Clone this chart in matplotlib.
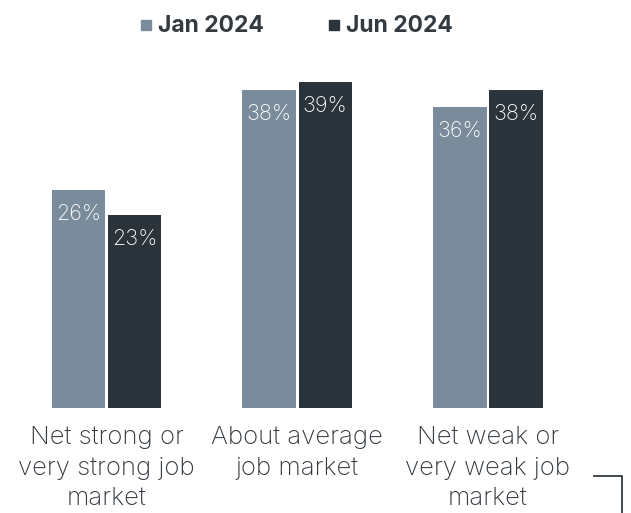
import matplotlib.pyplot as plt
import numpy as np
from matplotlib.lines import Line2D

categories = ["Net strong or\nvery strong job\nmarket", "About average\njob market", "Net weak or\nvery weak job\nmarket"]
jan_2024 = [26, 38, 36]
jun_2024 = [23, 39, 38]
series_names = ["Jan 2024", "Jun 2024"]

jan_color = "#7a8c9b"
jun_color = "#2b333b"
text_color = "#333a40"

plt.rcParams["font.family"] = ["Inter", "DejaVu Sans"]

fig = plt.figure(figsize=(6.31, 5.13), dpi=100)
ax = fig.add_axes([0, 105 / 513, 1, (408 - 60) / 513])

x = np.arange(len(categories))
w = 0.28
off = 0.147
b1 = ax.bar(x - off, jan_2024, w, color=jan_color)
b2 = ax.bar(x + off, jun_2024, w, color=jun_color)

# value labels inside bar tops
for bars, vals in ((b1, jan_2024), (b2, jun_2024)):
    for bar, v in zip(bars, vals):
        ax.annotate(f"{v}%", (bar.get_x() + bar.get_width() / 2, v),
                    xytext=(0, -24), textcoords="offset pixels",
                    ha="center", va="center", color="white", fontsize=15.5, fontweight="light")

ax.set_xlim(-106.5 / 190.7, (631 - 106.5) / 190.7)
ax.set_ylim(0, (408 - 60) / 8.37)
ax.axis("off")

for xi, cat in zip(x, categories):
    ax.annotate(cat, (xi, 0), xytext=(0, -18), textcoords="offset pixels",
                ha="center", va="top", fontsize=18.5, fontweight="light",
                color=text_color, linespacing=1.42)

# legend
fig.patches.append(plt.Rectangle((141 / 631, 1 - 30 / 513), 10 / 631, 10 / 513,
                                 transform=fig.transFigure, color=jan_color))
fig.patches.append(plt.Rectangle((329 / 631, 1 - 30 / 513), 10 / 631, 10 / 513,
                                 transform=fig.transFigure, color=jun_color))
fig.text(158 / 631, 1 - 26 / 513, series_names[0], ha="left", va="center",
         fontsize=16.5, fontweight="bold", color=text_color)
fig.text(346 / 631, 1 - 26 / 513, series_names[1], ha="left", va="center",
         fontsize=16.5, fontweight="bold", color=text_color)

# corner mark
fig.add_artist(Line2D([594 / 631, 622 / 631, 622 / 631], [1 - 476 / 513, 1 - 476 / 513, 0],
                      transform=fig.transFigure, color=text_color, lw=1.3))

fig.savefig("out.png", dpi=100)
